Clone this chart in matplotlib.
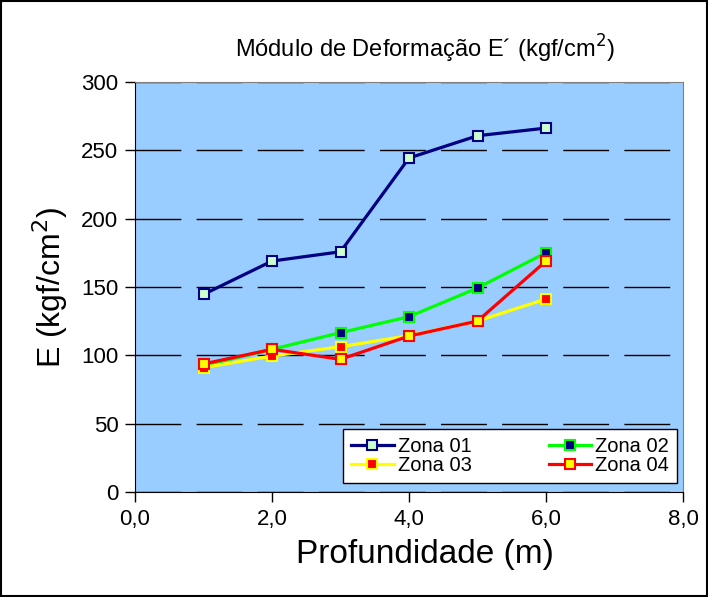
import matplotlib
matplotlib.use("Agg")
import matplotlib.pyplot as plt
from matplotlib.patches import Rectangle

plt.rcParams['font.family'] = ['Liberation Sans', 'DejaVu Sans']

# dados
profundidade = [1.0, 2.0, 3.0, 4.0, 5.0, 6.0]
zona01 = [144.6, 169.0, 175.8, 244.4, 260.7, 266.3]
zona02 = [92.5, 104.4, 116.6, 128.3, 149.3, 175.1]
zona03 = [91.0, 99.5, 106.3, 114.4, 125.1, 141.2]
zona04 = [93.7, 104.4, 97.1, 114.1, 125.1, 169.0]
nomes = ['Zona 01', 'Zona 02', 'Zona 03', 'Zona 04']

estilos = [
    dict(color='#000080', mfc='#CCFFCC', mec='#000080'),
    dict(color='#00FF00', mfc='#000080', mec='#00FF00'),
    dict(color='#FFFF00', mfc='#FF0000', mec='#FFFF00'),
    dict(color='#FF0000', mfc='#FFFF00', mec='#FF0000'),
]

fig = plt.figure(figsize=(7.08, 5.97), dpi=100)
ax = fig.add_axes([0.1907, 0.1759, 0.7740, 0.6867])
ax.set_facecolor('#99CCFF')

linhas = []
for serie, nome, st in zip([zona01, zona02, zona03, zona04], nomes, estilos):
    l, = ax.plot(profundidade, serie, '-s', lw=2.3, ms=7, mew=1.5, label=nome, **st)
    linhas.append(l)

ax.set_xlim(0, 8)
ax.set_ylim(0, 300)
ax.set_xticks([0, 2, 4, 6, 8])
ax.set_xticklabels(['0,0', '2,0', '4,0', '6,0', '8,0'])
ax.set_yticks(range(0, 301, 50))
ax.tick_params(direction='out', length=7, width=1, labelsize=16, pad=5)
ax.yaxis.grid(True, color='black', lw=1, linestyle=(0, (33, 11)))
ax.set_axisbelow(True)
for s in ['top', 'right']:
    ax.spines[s].set_color('#808080')
for s in ['left', 'bottom']:
    ax.spines[s].set_color('black')

ax.set_xlabel('Profundidade (m)', fontsize=24, labelpad=7)
ax.xaxis.label.set_x(0.529)
ax.set_ylabel('E (kgf/cm$^2$)', fontsize=23, labelpad=8)
fig.text(0.60, 0.918, 'Módulo de Deformação E´ (kgf/cm$^2$)', fontsize=17,
         ha='center', va='center')

# ordem por linhas: 01 02 / 03 04
ordem = [0, 2, 1, 3]
leg = ax.legend([linhas[i] for i in ordem], [nomes[i] for i in ordem],
                ncol=2, loc='lower left', bbox_to_anchor=(0.38, 0.022, 0.609, 0.127),
                mode='expand', borderaxespad=0, fontsize=14.5, fancybox=False,
                framealpha=1, edgecolor='black', borderpad=0.4, labelspacing=0.0,
                handlelength=2.1, handletextpad=0.2, columnspacing=1.0)
leg.get_frame().set_linewidth(1)

fig.patches.append(Rectangle((0.002, 0.002), 0.996, 0.996, transform=fig.transFigure,
                             fill=False, edgecolor='black', lw=1.5))

fig.savefig('out.png', dpi=100)
